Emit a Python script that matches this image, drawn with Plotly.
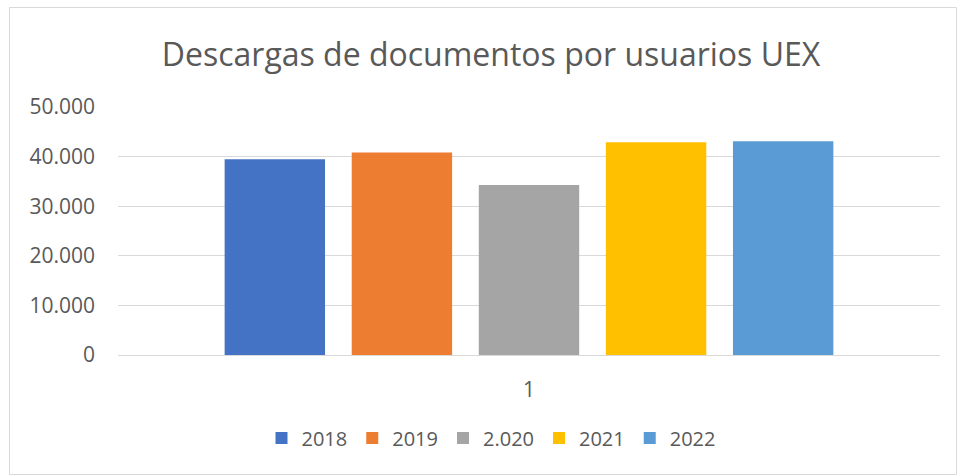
import plotly.graph_objects as go

categories = ["1"]
series_names = ["2018", "2019", "2.020", "2021", "2022"]
series_values = [39450, 40850, 34250, 42900, 43100]
colors = ["#4472C4", "#ED7D31", "#A5A5A5", "#FFC000", "#5B9BD5"]
y_ticks = [0, 10000, 20000, 30000, 40000, 50000]
y_tick_labels = ["0", "10.000", "20.000", "30.000", "40.000", "50.000"]

W, H = 957, 475
L, R, T, B = 118, 17, 107, 120
FONT = "Open Sans, Liberation Sans, sans-serif"
GREY = "#595959"

fig = go.Figure()
for name, val, col in zip(series_names, series_values, colors):
    fig.add_trace(go.Bar(x=categories, y=[val], name=name, marker=dict(color=col, line=dict(width=0))))

pw = W - L - R
ph = H - T - B
def px_x(p):
    return (p - L) / pw
def px_y(p):
    return (H - B - p) / ph

fig.update_layout(
    width=W, height=H,
    margin=dict(l=L, r=R, t=T, b=B),
    paper_bgcolor="white", plot_bgcolor="white",
    font=dict(family=FONT, color=GREY, size=20),
    barmode="group", bargap=0.227, bargroupgap=0.21,
    title=dict(text="Descargas de documentos por usuarios UEX", x=491 / W, xanchor="center",
               y=1 - 55 / H, yanchor="middle",
               font=dict(size=32, color=GREY, family=FONT)),
    showlegend=True,
    legend=dict(orientation="h", x=px_x(491), xanchor="center", y=px_y(438), yanchor="middle",
                font=dict(size=20, color=GREY), itemwidth=30, traceorder="normal"),
    xaxis=dict(type="category", showgrid=False, showline=True, linecolor="#D9D9D9", linewidth=1,
               ticks="", ticklabelstandoff=16, tickfont=dict(size=21, color=GREY)),
    yaxis=dict(range=[0, 50000], tickvals=y_ticks, ticktext=y_tick_labels, showgrid=True,
               gridcolor="#D9D9D9", gridwidth=1, zeroline=False, showline=False, ticks="",
               ticklabelstandoff=22, tickfont=dict(size=21, color=GREY)),
    shapes=[dict(type="rect", xref="paper", yref="paper",
                 x0=px_x(9.5), x1=px_x(956.5), y0=px_y(474.5), y1=px_y(7.5),
                 line=dict(color="#D9D9D9", width=1), fillcolor="rgba(0,0,0,0)", layer="below")],
)

fig.write_html("out.html")
